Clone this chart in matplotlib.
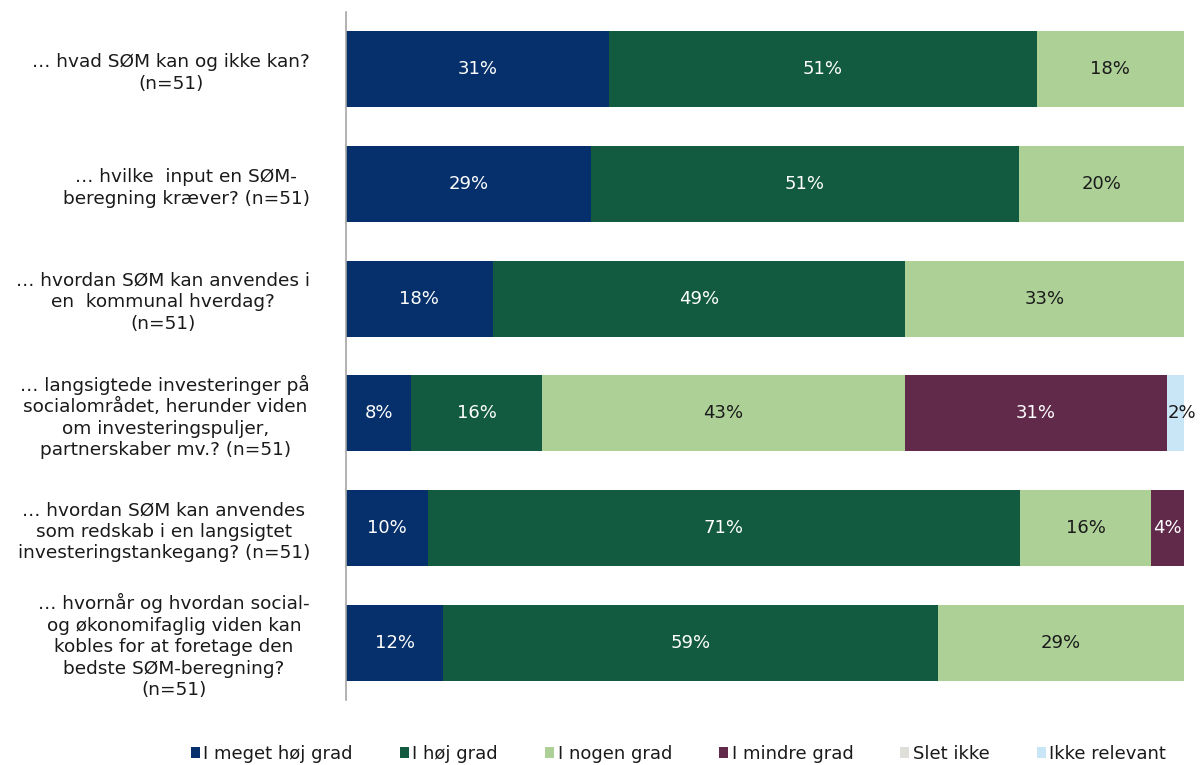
import matplotlib
matplotlib.use("Agg")
import matplotlib.pyplot as plt
import numpy as np

categories = [
    "… hvad SØM kan og ikke kan?\n(n=51)",
    "… hvilke  input en SØM-\nberegning kræver? (n=51)",
    "… hvordan SØM kan anvendes i\nen  kommunal hverdag?\n(n=51)",
    "… langsigtede investeringer på\nsocialområdet, herunder viden\nom investeringspuljer,\npartnerskaber mv.? (n=51)",
    "… hvordan SØM kan anvendes\nsom redskab i en langsigtet\ninvesteringstankegang? (n=51)",
    "… hvornår og hvordan social-\nog økonomifaglig viden kan\nkobles for at foretage den\nbedste SØM-beregning?\n(n=51)",
]
series = ["I meget høj grad", "I høj grad", "I nogen grad", "I mindre grad", "Slet ikke", "Ikke relevant"]
meget_hoej = [31.4, 29.2, 17.5, 7.8, 9.8, 11.6]
hoej = [51.0, 51.1, 49.2, 15.6, 70.6, 59.0]
nogen = [17.6, 19.7, 33.3, 43.3, 15.7, 29.4]
mindre = [0, 0, 0, 31.3, 3.9, 0]
slet_ikke = [0, 0, 0, 0, 0, 0]
ikke_relevant = [0, 0, 0, 2.0, 0, 0]

values = [meget_hoej, hoej, nogen, mindre, slet_ikke, ikke_relevant]
colors = ["#06306B", "#125B40", "#ADD096", "#612A4A", "#E0DED8", "#C9E6F7"]
text_colors = ["white", "white", "#1a1a1a", "white", "#1a1a1a", "#1a1a1a"]

plt.rcParams['font.family'] = ['DejaVu Sans']

fig = plt.figure(figsize=(12.03, 7.65), dpi=100)
ax = fig.add_axes([346/1203, 1 - 700/765, (1184-346)/1203, (700-12)/765])

y = np.arange(len(categories))
left = np.zeros(len(categories))
for s, vals, c, tc in zip(series, values, colors, text_colors):
    vals = np.array(vals, dtype=float)
    ax.barh(y, vals, left=left, height=0.66, color=c, label=s, edgecolor='none')
    for yi, v, l in zip(y, vals, left):
        if v > 0:
            ax.text(l + v / 2 + (0.8 if v < 3 else 0), yi, f"{round(v):d}%", ha='center', va='center',
                    color=tc, fontsize=13)
    left += vals

ax.set_xlim(0, 100)
ax.set_ylim(5.5, -0.5)
ax.set_yticks(y)
ax.set_yticklabels(categories, fontsize=13.3, multialignment='center', color='#1a1a1a',
                   linespacing=1.25)
ax.tick_params(axis='y', length=0, pad=26)
ax.set_xticks([])
for sp in ['top', 'right', 'bottom']:
    ax.spines[sp].set_visible(False)
ax.spines['left'].set_color('#A6A6A6')
ax.spines['left'].set_linewidth(1.2)

leg = fig.legend(loc='center', bbox_to_anchor=(0.564, 1 - 754/765), ncol=6, frameon=False,
                 fontsize=13, handlelength=0.5, handleheight=0.5, handletextpad=0.2,
                 columnspacing=2.6, borderpad=0.1)
for t in leg.get_texts():
    t.set_color('#1a1a1a')

fig.savefig("out.png", dpi=100)
